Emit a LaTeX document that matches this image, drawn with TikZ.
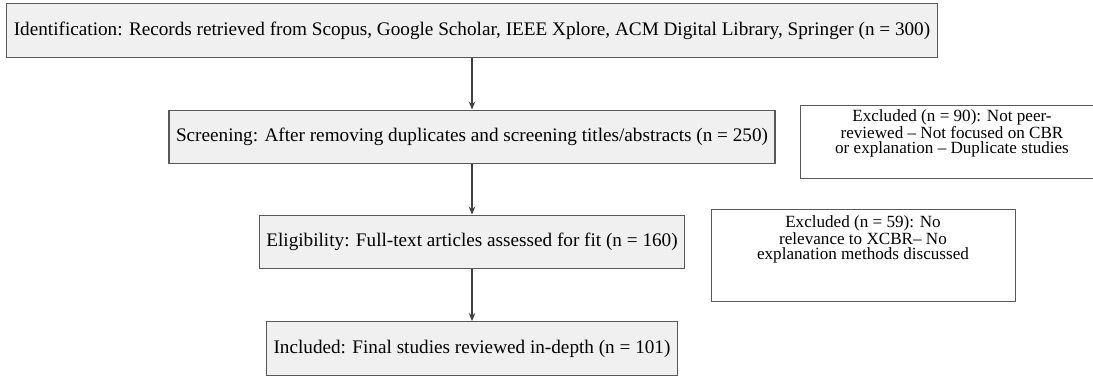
\documentclass[tikz,border=0pt]{standalone}
\usepackage{fontspec}
\setmainfont{Liberation Serif}
\usetikzlibrary{arrows.meta}
\begin{document}
\begin{tikzpicture}[x=0.5pt,y=-0.5pt,
  stage/.style={draw=black!65, line width=0.65pt, fill=black!6,
    font=\fontsize{9.6}{11}\selectfont, inner xsep=3.5pt, inner ysep=0pt,
    minimum height=26.75pt},
  exclbox/.style={draw=black!65, line width=0.65pt, fill=white,
    minimum width=152pt, anchor=north west, inner sep=0pt},
  excltext/.style={font=\fontsize{8.55}{7.2}\selectfont, align=center, inner sep=0pt},
  flow/.style={draw=black!75, line width=0.65pt, -{Stealth[length=4pt,width=3.2pt]}}]
\useasboundingbox (0,0) rectangle (1093,377);

% main stages of the selection process
\node[stage] (id) at (472,30.5)
  {Identification: Records retrieved from Scopus, Google Scholar, IEEE Xplore, ACM Digital Library, Springer (n = 300)};
\node[stage] (sc) at (472,137)
  {Screening: After removing duplicates and screening titles/abstracts (n = 250)};
\node[stage] (el) at (472,242)
  {Eligibility: Full-text articles assessed for fit (n = 160)};
\node[stage] (in) at (472,348.5)
  {Included: Final studies reviewed in-depth (n = 101)};

% exclusion notes
\node[exclbox, minimum height=36.5pt] (exa) at (800,105) {};
\node[excltext] (exatext) at (952,133)
  {Excluded (n = 90): Not peer-\\reviewed -- Not focused on CBR\\or explanation -- Duplicate studies};
\node[exclbox, minimum height=46pt] (exb) at (711,209) {};
\node[excltext] (exbtext) at (863,239)
  {Excluded (n = 59): No\\relevance to XCBR-- No\\explanation methods discussed};

% flow arrows
\draw[flow] (id) -- (sc);
\draw[flow] (sc) -- (el);
\draw[flow] (el) -- (in);
\end{tikzpicture}
\end{document}
